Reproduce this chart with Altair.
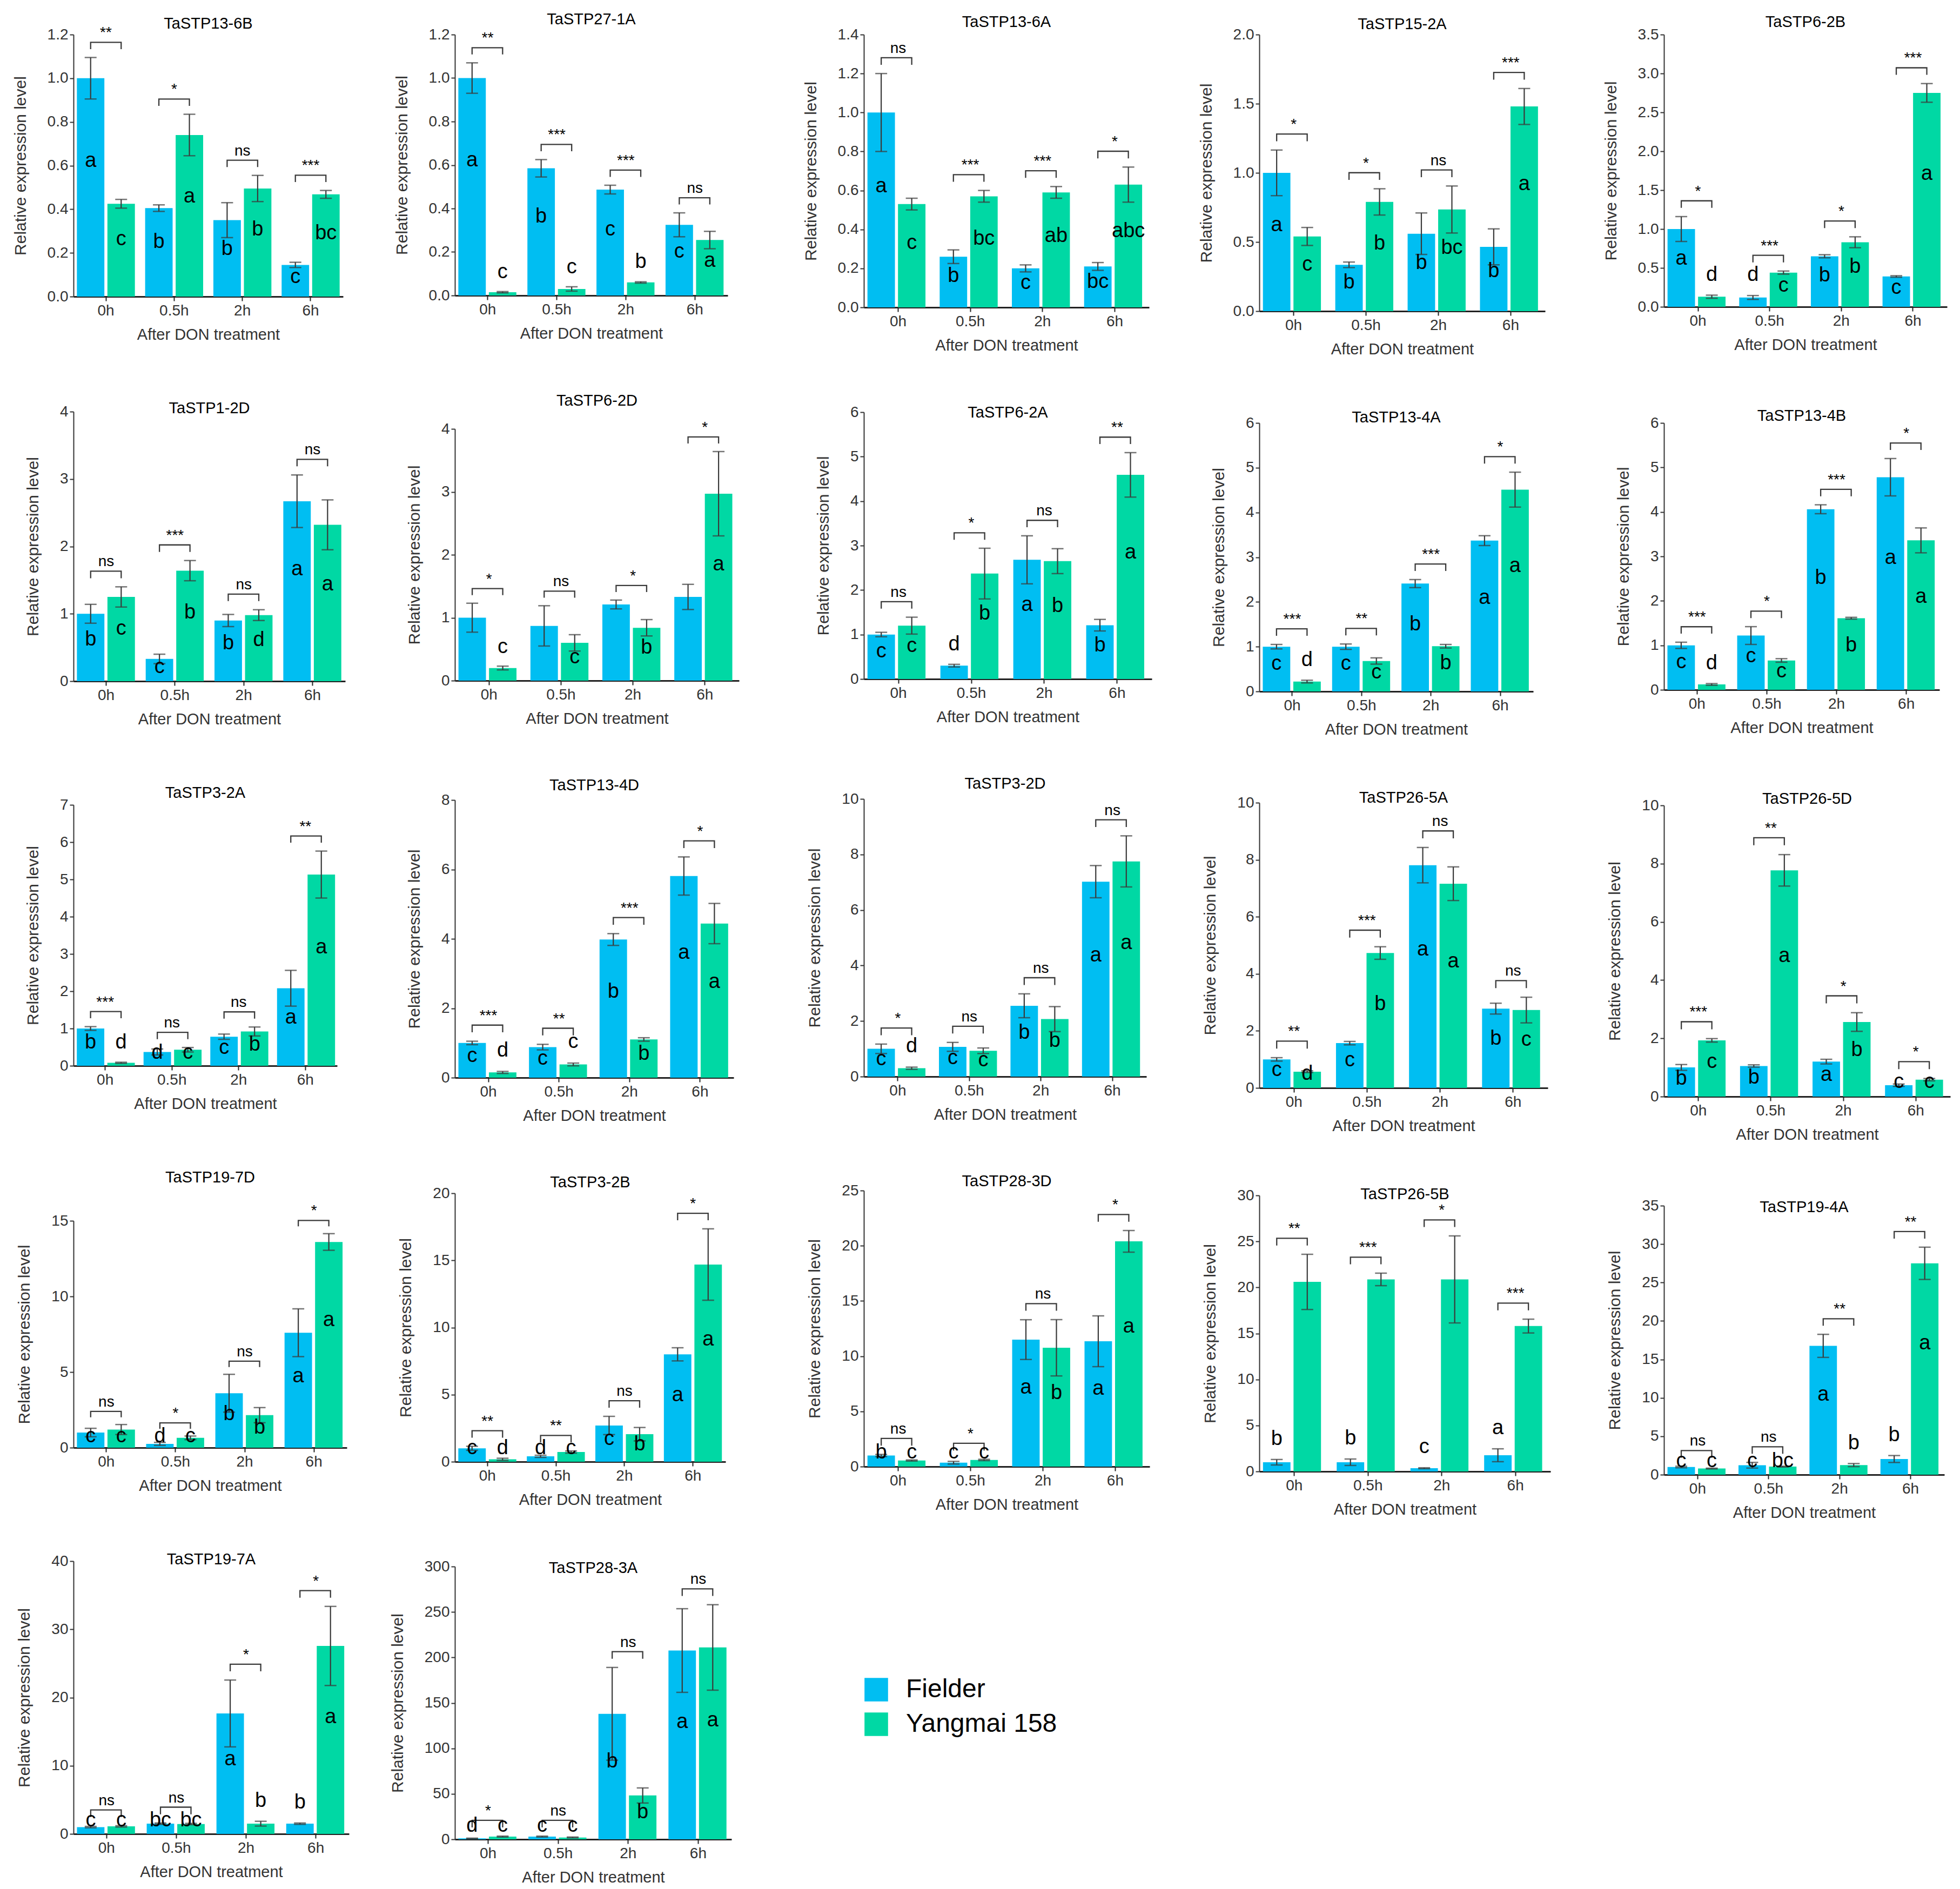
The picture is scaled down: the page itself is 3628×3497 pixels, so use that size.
import altair as alt
import pandas as pd

FONT = "Liberation Sans"
BLUE = "#00BEF2"
GREEN = "#00D8A4"
INK = "#3a3a3a"

times = ["0h", "0.5h", "2h", "6h"]
cultivars = ["Fielder", "Yangmai 158"]

genes = ["TaSTP13-6B", "TaSTP27-1A", "TaSTP13-6A", "TaSTP15-2A", "TaSTP6-2B",
         "TaSTP1-2D", "TaSTP6-2D", "TaSTP6-2A", "TaSTP13-4A", "TaSTP13-4B",
         "TaSTP3-2A", "TaSTP13-4D", "TaSTP3-2D", "TaSTP26-5A", "TaSTP26-5D",
         "TaSTP19-7D", "TaSTP3-2B", "TaSTP28-3D", "TaSTP26-5B", "TaSTP19-4A",
         "TaSTP19-7A", "TaSTP28-3A"]

fielder_mean = [
    [1.00, 0.405, 0.35, 0.145], [1.00, 0.585, 0.487, 0.325], [1.00, 0.26, 0.20, 0.21],
    [1.00, 0.335, 0.56, 0.465], [1.00, 0.12, 0.65, 0.39],
    [1.00, 0.33, 0.90, 2.67], [1.00, 0.87, 1.21, 1.33], [1.00, 0.30, 2.68, 1.21],
    [1.00, 1.00, 2.41, 3.37], [1.00, 1.22, 4.06, 4.78],
    [1.00, 0.37, 0.78, 2.08], [1.00, 0.88, 3.98, 5.81], [1.00, 1.07, 2.55, 7.02],
    [1.00, 1.57, 7.81, 2.78], [1.00, 1.05, 1.20, 0.39],
    [1.00, 0.25, 3.60, 7.60], [1.00, 0.40, 2.70, 8.00], [1.00, 0.35, 11.50, 11.35],
    [1.00, 1.00, 0.35, 1.76], [1.00, 1.23, 16.76, 2.04],
    [1.00, 1.50, 17.66, 1.50], [1.0, 3.0, 138.0, 207.6],
]
fielder_err = [
    [0.095, 0.015, 0.08, 0.012], [0.07, 0.04, 0.02, 0.055], [0.20, 0.035, 0.018, 0.02],
    [0.165, 0.02, 0.15, 0.13], [0.16, 0.025, 0.02, 0.01],
    [0.14, 0.07, 0.09, 0.39], [0.23, 0.32, 0.07, 0.20], [0.05, 0.03, 0.54, 0.13],
    [0.05, 0.06, 0.09, 0.11], [0.07, 0.20, 0.10, 0.42],
    [0.05, 0.08, 0.07, 0.48], [0.05, 0.08, 0.17, 0.55], [0.17, 0.16, 0.43, 0.58],
    [0.06, 0.06, 0.62, 0.19], [0.10, 0.04, 0.08, 0.04],
    [0.28, 0.10, 1.25, 1.58], [0.15, 0.08, 0.68, 0.49], [0.10, 0.12, 1.80, 2.30],
    [0.30, 0.35, 0.05, 0.70], [0.10, 0.37, 1.50, 0.45],
    [0.10, 0.10, 4.90, 0.10], [0.2, 0.5, 51.0, 46.0],
]
yangmai_mean = [
    [0.425, 0.74, 0.495, 0.468], [0.015, 0.03, 0.06, 0.255], [0.53, 0.57, 0.59, 0.63],
    [0.54, 0.79, 0.735, 1.48], [0.13, 0.44, 0.83, 2.75],
    [1.25, 1.64, 0.98, 2.32], [0.20, 0.60, 0.84, 2.97], [1.20, 2.37, 2.65, 4.59],
    [0.22, 0.68, 1.01, 4.51], [0.12, 0.66, 1.61, 3.36],
    [0.08, 0.43, 0.92, 5.13], [0.15, 0.38, 1.10, 4.44], [0.30, 0.93, 2.07, 7.75],
    [0.57, 4.73, 7.16, 2.73], [1.93, 7.77, 2.56, 0.58],
    [1.20, 0.65, 2.15, 13.60], [0.18, 0.72, 2.05, 14.69], [0.55, 0.60, 10.76, 20.40],
    [20.60, 20.87, 20.87, 15.80], [0.80, 1.05, 1.25, 27.50],
    [1.10, 1.45, 1.50, 27.56], [3.0, 2.0, 48.2, 211.0],
]
yangmai_err = [
    [0.02, 0.095, 0.06, 0.018], [0.003, 0.01, 0.003, 0.04], [0.03, 0.03, 0.03, 0.09],
    [0.065, 0.095, 0.17, 0.13], [0.02, 0.02, 0.07, 0.12],
    [0.15, 0.15, 0.08, 0.37], [0.03, 0.13, 0.13, 0.67], [0.19, 0.57, 0.28, 0.50],
    [0.03, 0.07, 0.04, 0.39], [0.02, 0.04, 0.02, 0.28],
    [0.015, 0.06, 0.12, 0.63], [0.03, 0.04, 0.05, 0.58], [0.04, 0.10, 0.45, 0.92],
    [0.03, 0.22, 0.59, 0.45], [0.06, 0.54, 0.32, 0.04],
    [0.33, 0.12, 0.50, 0.55], [0.08, 0.08, 0.50, 2.66], [0.05, 0.06, 2.55, 0.98],
    [3.00, 0.68, 4.73, 0.75], [0.05, 0.05, 0.20, 2.10],
    [0.10, 0.10, 0.35, 5.80], [0.5, 0.5, 8.3, 47.0],
]
fielder_letters = [
    ["a", "b", "b", "c"], ["a", "b", "c", "c"], ["a", "b", "c", "bc"], ["a", "b", "b", "b"], ["a", "d", "b", "c"],
    ["b", "c", "b", "a"], ["", "", "", ""], ["c", "d", "a", "b"], ["c", "c", "b", "a"], ["c", "c", "b", "a"],
    ["b", "d", "c", "a"], ["c", "c", "b", "a"], ["c", "c", "b", "a"], ["c", "c", "a", "b"], ["b", "b", "a", "c"],
    ["c", "d", "b", "a"], ["c", "d", "c", "a"], ["b", "c", "a", "a"], ["b", "b", "c", "a"], ["c", "c", "a", "b"],
    ["c", "bc", "a", "b"], ["d", "c", "b", "a"],
]
yangmai_letters = [
    ["c", "a", "b", "bc"], ["c", "c", "b", "a"], ["c", "bc", "ab", "abc"], ["c", "b", "bc", "a"], ["d", "c", "b", "a"],
    ["c", "b", "d", "a"], ["c", "c", "b", "a"], ["c", "b", "b", "a"], ["d", "c", "b", "a"], ["d", "c", "b", "a"],
    ["d", "c", "b", "a"], ["d", "c", "b", "a"], ["d", "c", "b", "a"], ["d", "b", "a", "c"], ["c", "a", "b", "c"],
    ["c", "c", "b", "a"], ["d", "c", "b", "a"], ["c", "c", "b", "a"], ["", "", "", ""], ["c", "bc", "b", "a"],
    ["c", "bc", "b", "a"], ["c", "c", "b", "a"],
]
significance = [
    ["**", "*", "ns", "***"], ["**", "***", "***", "ns"], ["ns", "***", "***", "*"], ["*", "*", "ns", "***"], ["*", "***", "*", "***"],
    ["ns", "***", "ns", "ns"], ["*", "ns", "*", "*"], ["ns", "*", "ns", "**"], ["***", "**", "***", "*"], ["***", "*", "***", "*"],
    ["***", "ns", "ns", "**"], ["***", "**", "***", "*"], ["*", "ns", "ns", "ns"], ["**", "***", "ns", "ns"], ["***", "**", "*", "*"],
    ["ns", "*", "ns", "*"], ["**", "**", "ns", "*"], ["ns", "*", "ns", "*"], ["**", "***", "*", "***"], ["ns", "ns", "**", "**"],
    ["ns", "ns", "*", "*"], ["*", "ns", "ns", "ns"],
]
y_max = [1.2, 1.2, 1.4, 2.0, 3.5, 4, 4, 6, 6, 6, 7, 8, 10, 10, 10, 15, 20, 25, 30, 35, 40, 300]
y_step = [0.2, 0.2, 0.2, 0.5, 0.5, 1, 1, 1, 1, 1, 1, 2, 2, 2, 2, 5, 5, 5, 5, 5, 10, 50]

# ---- layout (panel sizes, title offsets, column membership, spacing) ----
panel_w = [499, 505, 528, 529, 524,
           503, 526, 533, 507, 510,
           488, 516, 523, 534, 530,
           506, 501, 529, 539, 519,
           510, 512]
panel_h = [485, 483, 505, 512, 504,
           499, 466, 494, 497, 494,
           483, 514, 514, 528, 539,
           420, 497, 511, 511, 498,
           505, 505]
title_off = [-12, -1, -6, -10, -6,
             -23, 21, -30, -19, -16,
             -7, -2, -1, -20, -17,
             33, -9, -12, -27, -32,
             -26, -32]
columns = [[0, 5, 10, 15, 20], [1, 6, 11, 16, 21], [2, 7, 12, 17], [3, 8, 13, 18], [4, 9, 14, 19]]
column_spacing = [108, 95, 95, 98, 103]
gap_after_column = [75, 118, 86, 97]

legend_obj = alt.Legend(title=None, orient="none", legendX=1462, legendY=3040,
                        direction="vertical", symbolType="square", symbolSize=1900,
                        symbolStrokeWidth=0, labelFontSize=48, labelFont=FONT,
                        labelColor="black", labelOffset=31, rowPadding=16, labelLimit=800)


def letter_pos(v, e, other, ymax):
    if (v < 0.055 * ymax and other > 0.09 * ymax) or (v < 0.1 * ymax and other > 0.5 * ymax):
        return v + e + 0.075 * ymax
    return max(v * 0.62, 0.05 * ymax)


def make_panel(i):
    ymax = y_max[i]
    step = y_step[i]
    n = int(round(ymax / step))
    ticks = [round(k * step, 3) for k in range(n + 1)]
    fmt = ".1f" if step < 1 else "d"

    bar_rows, br_rows, sig_rows = [], [], []
    for j, t in enumerate(times):
        fv, fe = fielder_mean[i][j], fielder_err[i][j]
        yv, ye = yangmai_mean[i][j], yangmai_err[i][j]
        series = [(cultivars[0], fv, fe, fielder_letters[i][j], yv),
                  (cultivars[1], yv, ye, yangmai_letters[i][j], fv)]
        for c, v, e, let, other in series:
            bar_rows.append(dict(time=t, cultivar=c, value=v, lo=max(v - e, 0), hi=v + e,
                                 letter=let, ly=letter_pos(v, e, other, ymax)))
        top = max(fv + fe, yv + ye) + 0.058 * ymax
        leg = 0.026 * ymax
        br_rows += [dict(time=t, cultivar=cultivars[0], y=top - leg, k=0),
                    dict(time=t, cultivar=cultivars[0], y=top, k=1),
                    dict(time=t, cultivar=cultivars[1], y=top, k=2),
                    dict(time=t, cultivar=cultivars[1], y=top - leg, k=3)]
        sig_rows.append(dict(time=t, label=significance[i][j], y=top))

    df = pd.DataFrame(bar_rows)
    bdf = pd.DataFrame(br_rows)
    sdf = pd.DataFrame(sig_rows)

    x_enc = alt.X("time:N", sort=times,
                  scale=alt.Scale(domain=times, paddingInner=0.15, paddingOuter=0.05),
                  axis=alt.Axis(title="After DON treatment", labelAngle=0))
    xo_enc = alt.XOffset("cultivar:N", sort=cultivars,
                         scale=alt.Scale(domain=cultivars, paddingInner=0.1, paddingOuter=0))

    def y_enc(field):
        return alt.Y(f"{field}:Q", scale=alt.Scale(domain=[0, ymax], nice=False, zero=True),
                     axis=alt.Axis(values=ticks, format=fmt, title="Relative expression level"))

    color_enc = alt.Color("cultivar:N", scale=alt.Scale(domain=cultivars, range=[BLUE, GREEN]),
                          legend=legend_obj)

    bars = alt.Chart(df).mark_bar().encode(x=x_enc, xOffset=xo_enc, y=y_enc("value"), color=color_enc)
    err = alt.Chart(df).mark_rule(color=INK, strokeWidth=2.2).encode(
        x=x_enc, xOffset=xo_enc, y=y_enc("lo"), y2="hi:Q")
    cap_lo = alt.Chart(df).mark_tick(color=INK, orient="horizontal", size=22, thickness=2.5).encode(
        x=x_enc, xOffset=xo_enc, y=y_enc("lo"))
    cap_hi = alt.Chart(df).mark_tick(color=INK, orient="horizontal", size=22, thickness=2.5).encode(
        x=x_enc, xOffset=xo_enc, y=y_enc("hi"))
    letters = alt.Chart(df).mark_text(fontSize=38, font=FONT, color="black", baseline="middle").encode(
        x=x_enc, xOffset=xo_enc, y=y_enc("ly"), text="letter:N")
    brackets = alt.Chart(bdf).mark_line(color=INK, strokeWidth=2.3).encode(
        x=x_enc, xOffset=xo_enc, y=y_enc("y"), detail="time:N", order=alt.Order("k:Q"))
    sig = alt.Chart(sdf).mark_text(fontSize=28, font=FONT, color="black", baseline="bottom", dy=-3).encode(
        x=x_enc, y=y_enc("y"), text="label:N")

    return alt.layer(bars, err, cap_lo, cap_hi, brackets, sig, letters).properties(
        width=panel_w[i], height=panel_h[i],
        title=alt.TitleParams(text=genes[i], offset=title_off[i], frame="group", anchor="middle",
                              fontSize=29, fontWeight="normal", font=FONT, color="black"))


cols = [alt.vconcat(*[make_panel(k) for k in col], spacing=column_spacing[c])
        for c, col in enumerate(columns)]

grid = cols[0]
for c in range(1, len(cols)):
    grid = alt.hconcat(grid, cols[c], spacing=gap_after_column[c - 1])

chart = grid.properties(
    padding={"left": 15, "top": 14, "right": 2, "bottom": 2}
).configure_view(stroke=None).configure_axis(
    labelFont=FONT, titleFont=FONT, titleFontWeight="normal", grid=False,
    labelColor="#333333", titleColor="#333333"
).configure_axisX(
    domainColor="#222222", domainWidth=3, tickColor="#222222", tickSize=8, tickWidth=2,
    labelFontSize=28, labelPadding=4, titleFontSize=29, titlePadding=16
).configure_axisY(
    domainColor="#333333", domainWidth=2, tickColor="#333333", tickSize=7, tickWidth=2,
    labelFontSize=28, labelPadding=3, titleFontSize=30, titlePadding=34
)

chart.save("out.html", embed_options={"renderer": "svg", "actions": False})
